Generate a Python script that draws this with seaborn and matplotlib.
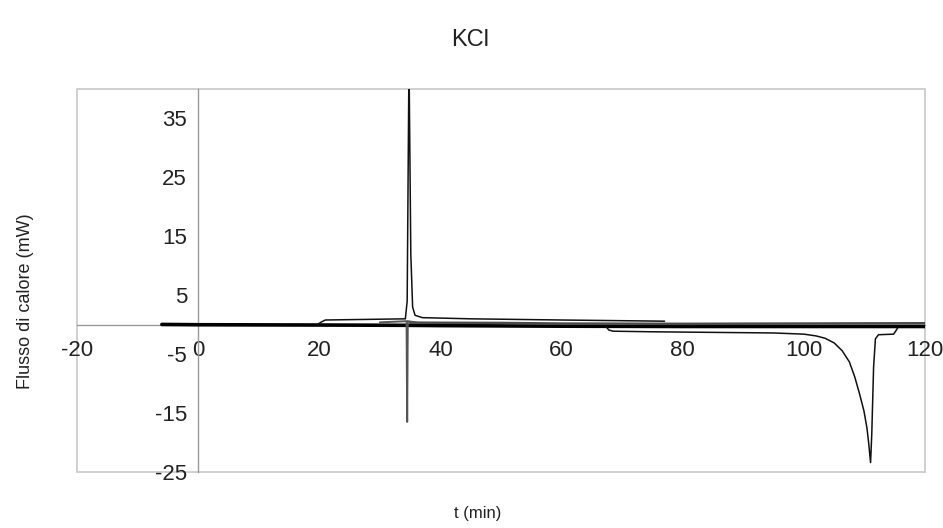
import matplotlib
matplotlib.use("Agg")
import matplotlib.pyplot as plt
from matplotlib.patches import Rectangle
import numpy as np
import pandas as pd
import seaborn as sns

# Heat-flow traces for KCl (t in min, heat flow in mW)
base_t = [-6, 0, 20, 34, 40, 60, 80, 100, 120]
base_q = [0.05, 0.0, -0.05, -0.1, -0.15, -0.25, -0.3, -0.3, -0.3]

base2_t = [35, 50, 60, 80, 100, 120]
base2_q = [0.35, 0.3, 0.2, 0.15, 0.2, 0.25]

exo_t = [19.6, 20.4, 21.0, 34.2, 34.5, 34.8, 35.1, 35.4, 35.8, 37, 45, 60, 77]
exo_q = [0.0, 0.5, 0.8, 1.0, 4.0, 45.0, 12.0, 3.0, 1.6, 1.2, 1.0, 0.8, 0.6]

dip_t = [30, 34.4, 34.5, 34.6, 36]
dip_q = [0.4, 0.6, -16.5, 0.6, 0.4]

endo_t = [67.3, 67.8, 68.5, 75, 85, 95, 100, 102, 103.5, 105, 106.3, 107.5,
          108.4, 109.2, 109.9, 110.4, 110.7, 111.0, 111.2, 111.5, 111.8,
          112.3, 114.8, 115.2, 115.5]
endo_q = [-0.3, -0.9, -1.1, -1.2, -1.3, -1.4, -1.6, -1.9, -2.3, -3.1, -4.4, -6.3,
          -8.9, -11.8, -14.6, -17.5, -20.2, -23.4, -18.5, -7.2, -2.4,
          -1.7, -1.6, -1.0, -0.5]

x_ticks = [-20, 0, 20, 40, 60, 80, 100, 120]
y_ticks = [-25, -15, -5, 5, 15, 25, 35]

sns.set_theme(style="white")
plt.rcParams["font.family"] = ["Liberation Sans", "DejaVu Sans"]

fig = plt.figure(figsize=(9.43, 5.28), dpi=100)
ax = fig.add_axes([0.0817, 0.106, 0.8993, 0.7254])

runs = [
    (base_t, base_q, "#000000", 2.6),
    (base2_t, base2_q, "#4a4a4a", 1.8),
    (exo_t, exo_q, "#111111", 1.1),
    (dip_t, dip_q, "#555555", 1.4),
    (endo_t, endo_q, "#111111", 1.1),
]
for t, q, c, lw in runs:
    df = pd.DataFrame({"t": t, "q": q})
    sns.lineplot(data=df, x="t", y="q", ax=ax, color=c, linewidth=lw,
                 estimator=None, sort=False, zorder=3)

ax.set_xlim(-20, 120)
ax.set_ylim(-25, 40)
ax.set_xticks(x_ticks)
ax.set_yticks(y_ticks)
ax.set_xticklabels([str(v) for v in x_ticks])
ax.set_yticklabels([str(v) for v in y_ticks])

# axes cross at the origin
for side in ("top", "right"):
    ax.spines[side].set_visible(False)
ax.spines["left"].set_position(("data", 0))
ax.spines["bottom"].set_position(("data", 0))
for side in ("left", "bottom"):
    ax.spines[side].set_color("#9a9a9a")
    ax.spines[side].set_linewidth(1.0)

ax.tick_params(axis="both", which="major", direction="out", length=6,
               width=0.8, color="#9a9a9a", labelsize=16, pad=2,
               labelcolor="#222222")
ax.tick_params(axis="x", pad=5)

# light frame around the plot area
ax.add_patch(Rectangle((0, 0), 1, 1, transform=ax.transAxes, fill=False,
                       edgecolor="#c8c8c8", linewidth=1.2, zorder=0,
                       clip_on=False))

ax.set_xlabel("")
ax.set_ylabel("")
fig.text(0.499, 0.924, "KCl", ha="center", va="center", fontsize=17,
         color="#222222")
fig.text(0.507, 0.028, "t (min)", ha="center", va="center", fontsize=12,
         color="#222222")
fig.text(0.027, 0.43, "Flusso di calore (mW)", ha="center", va="center",
         rotation=90, fontsize=13, color="#222222")

fig.savefig("out.png", dpi=100)
